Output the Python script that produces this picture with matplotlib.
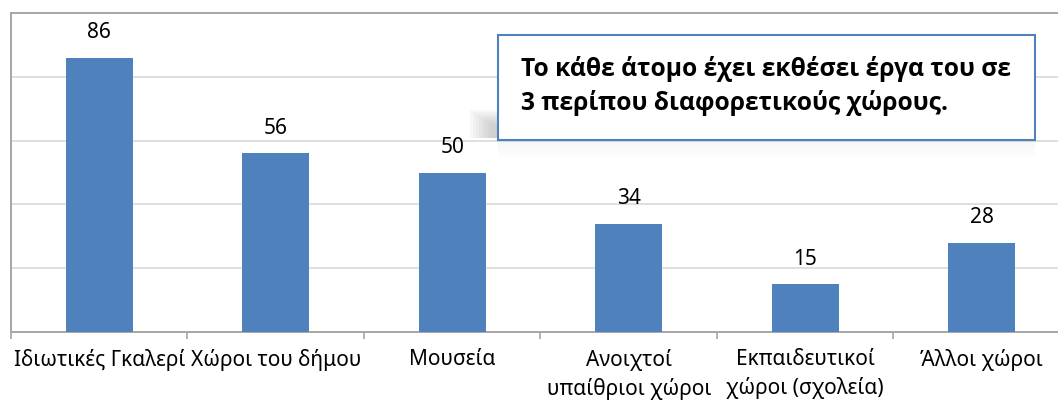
import matplotlib
matplotlib.use("Agg")
import matplotlib.pyplot as plt
from matplotlib.patches import Rectangle

# 데이터
categories = ["Ιδιωτικές Γκαλερί", "Χώροι του δήμου", "Μουσεία",
              "Ανοιχτοί\nυπαίθριοι χώροι", "Εκπαιδευτικοί\nχώροι (σχολεία)",
              "Άλλοι χώροι"]
values = [86, 56, 50, 34, 15, 28]
note = "Το κάθε άτομο έχει εκθέσει έργα του σε\n3 περίπου διαφορετικούς χώρους."

plt.rcParams["font.family"] = ["Noto Sans", "DejaVu Sans"]

W, H = 1058, 404
fig = plt.figure(figsize=(W / 100, H / 100), dpi=100)
fig.patch.set_facecolor("white")

# plot area (cut off on the right like the original screenshot)
ax = fig.add_axes([11 / W, 72 / H, 6 * 176.5 / W, 319 / H])
idx = range(len(categories))
ax.bar(idx, values, width=0.38, color="#4f81bd", zorder=3)

for i, v in zip(idx, values):
    ax.annotate(str(v), (i, v), xytext=(0, 18), textcoords="offset points",
                ha="center", va="center", fontsize=15, color="#000000")

ax.set_xlim(-0.5, len(categories) - 0.5)
ax.set_ylim(0, 100)
ax.set_yticks([20, 40, 60, 80])
ax.yaxis.grid(True, color="#d9d9d9", lw=1.2, zorder=0)
ax.tick_params(axis="y", length=0, labelleft=False)

ax.set_xticks(list(idx))
ax.set_xticklabels(categories, fontsize=15, linespacing=1.45, va="top")
ax.set_xticks([i - 0.5 for i in range(len(categories) + 1)], minor=True)
ax.tick_params(axis="x", which="major", length=0, pad=12)
ax.tick_params(axis="x", which="minor", length=5, width=1.2, color="#a6a6a6", direction="out")

for s in ["left", "top", "bottom"]:
    ax.spines[s].set_color("#a6a6a6")
    ax.spines[s].set_linewidth(1.4)
ax.spines["right"].set_visible(False)

# soft shadow of the callout box
for k in range(8):
    fig.patches.append(Rectangle(((470 + k * 3) / W, (404 - 138) / H), (40 - k * 3) / W,
                                 (28 - k * 2) / H, transform=fig.transFigure,
                                 facecolor="#808080", edgecolor="none", alpha=0.05, zorder=4))
for k in range(6):
    fig.patches.append(Rectangle((498 / W, (404 - 142 - k * 3) / H), 537 / W, 3 / H,
                                 transform=fig.transFigure, facecolor="#b0b0b0",
                                 edgecolor="none", alpha=0.12 - k * 0.02, zorder=4))

# callout box
fig.patches.append(Rectangle((498 / W, (404 - 140) / H), 537 / W, 105 / H,
                             transform=fig.transFigure, facecolor="white",
                             edgecolor="#4f81bd", lw=1.5, zorder=5))
fig.text(521 / W, (404 - 86) / H, note, fontsize=17.7, fontweight="bold",
         family=["Open Sans", "DejaVu Sans"],
         ha="left", va="center", linespacing=1.4, color="#000000", zorder=6)

fig.savefig("out.png", dpi=100, facecolor="white")
